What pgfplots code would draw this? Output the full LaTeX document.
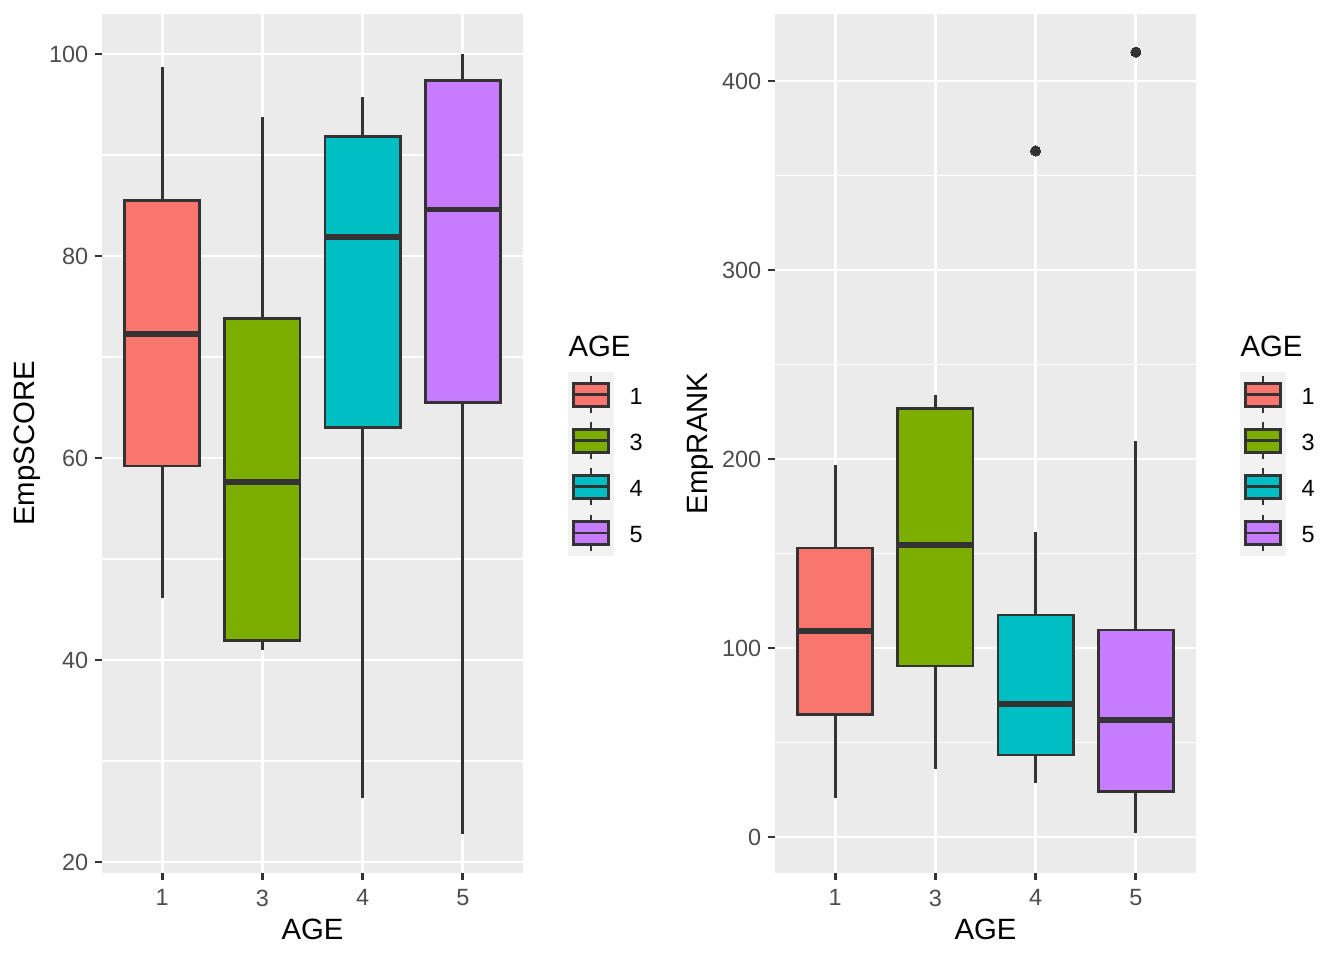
\documentclass[border=0pt]{standalone}
\usepackage{pgfplots}
\pgfplotsset{compat=1.18}
\usepgfplotslibrary{statistics}
\usepackage{fontspec}
\setmainfont{Liberation Sans}

\definecolor{panelbg}{HTML}{EBEBEB}
\definecolor{keybg}{HTML}{F2F2F2}
\definecolor{dark}{HTML}{333333}
\definecolor{ticktxt}{HTML}{4D4D4D}
\definecolor{age1}{HTML}{F8766D}
\definecolor{age3}{HTML}{7CAE00}
\definecolor{age4}{HTML}{00BFC4}
\definecolor{age5}{HTML}{C77CFF}

\pgfplotsset{
  gg/.style={
    scale only axis,
    width=157.875pt, height=322.125pt,
    anchor=south west,
    xmin=0.4, xmax=4.6,
    xtick={1,2,3,4}, xticklabels={1,3,4,5},
    axis background/.style={fill=panelbg},
    axis line style={draw=none},
    tick align=outside,
    major tick length=2.75pt,
    minor tick length=0pt,
    xtick pos=bottom, ytick pos=left,
    major tick style={draw=dark, line width=1.07pt},
    grid=both,
    major grid style={white, line width=1.07pt},
    minor grid style={white, line width=0.53pt},
    tick label style={font=\fontsize{8.8}{10}\selectfont, text=ticktxt, inner sep=0pt},
    xticklabel style={yshift=-3.3pt},
    yticklabel style={xshift=-2.2pt},
    /pgf/number format/assume math mode=true,
    xlabel=AGE,
    label style={font=\fontsize{11}{13}\selectfont, inner sep=0pt},
    xlabel style={at={(axis description cs:0.5,0)}, anchor=base, yshift=-24.75pt},
    ylabel style={at={(axis description cs:0,0.5)}, anchor=base, yshift=25.4pt},
    boxplot/draw direction=y,
    boxplot/box extend=0.75,
    boxplot/whisker extend=0,
    boxplot/every median/.style={line width=2.13pt},
    bx/.style={draw=dark, line width=1.07pt, fill=##1,
      mark=*, mark size=1.9pt, mark options={fill=dark, draw=dark, line width=0pt}},
  }
}

\newcommand{\ggkeys}{%
  \fill[keybg] (213pt,151.5pt) rectangle (230.28pt,220.62pt);
  \node[anchor=base west, inner sep=0pt, font=\fontsize{11}{13}\selectfont] at (213pt,226.5pt) {AGE};
  \foreach \c/\l [count=\i from 0] in {age1/1,age3/3,age4/4,age5/5}{
    \pgfmathsetmacro{\t}{220.62-17.28*\i}
    \draw[dark, line width=1.07pt] (221.64pt,\t pt-1.73pt) -- (221.64pt,\t pt-15.55pt);
    \filldraw[fill=\c, draw=dark, line width=1.07pt] (215.16pt,\t pt-4.32pt) rectangle (228.12pt,\t pt-12.96pt);
    \draw[dark, line width=1.07pt] (215.16pt,\t pt-8.64pt) -- (228.12pt,\t pt-8.64pt);
    \node[anchor=west, inner sep=0pt, font=\fontsize{8.8}{10}\selectfont] at (235.9pt,\t pt-9.3pt) {\l};
  }%
}

\begin{document}
\begin{tikzpicture}
\useasboundingbox (0,0) rectangle (504pt,360pt);

% left panel: EmpSCORE
\begin{axis}[gg, at={(38.25pt,32.625pt)},
  ymin=18.91, ymax=103.96,
  ytick={20,40,60,80,100}, minor ytick={30,50,70,90},
  ylabel=EmpSCORE]
  \addplot[bx=age1, mark=none, boxplot prepared={draw position=1,
    lower whisker=46.1, lower quartile=59.2, median=72.3,
    upper quartile=85.5, upper whisker=98.7}] coordinates {};
  \addplot[bx=age3, mark=none, boxplot prepared={draw position=2,
    lower whisker=41.0, lower quartile=41.9, median=57.6,
    upper quartile=73.8, upper whisker=93.8}] coordinates {};
  \addplot[bx=age4, mark=none, boxplot prepared={draw position=3,
    lower whisker=26.3, lower quartile=63.0, median=81.9,
    upper quartile=91.8, upper whisker=95.7}] coordinates {};
  \addplot[bx=age5, mark=none, boxplot prepared={draw position=4,
    lower whisker=22.8, lower quartile=65.5, median=84.6,
    upper quartile=97.4, upper whisker=100.0}] coordinates {};
\end{axis}

% right panel: EmpRANK
\begin{axis}[gg, at={(290.625pt,32.625pt)},
  ymin=-19.05, ymax=435.45,
  ytick={0,100,200,300,400}, minor ytick={50,150,250,350},
  ylabel=EmpRANK]
  \addplot[bx=age1, mark=none, boxplot prepared={draw position=1,
    lower whisker=20.6, lower quartile=64.6, median=109.0,
    upper quartile=152.9, upper whisker=196.8}] coordinates {};
  \addplot[bx=age3, mark=none, boxplot prepared={draw position=2,
    lower whisker=36.0, lower quartile=90.5, median=154.5,
    upper quartile=226.5, upper whisker=233.9}] coordinates {};
  \addplot[bx=age4, boxplot prepared={draw position=3,
    lower whisker=28.6, lower quartile=43.4, median=70.4,
    upper quartile=117.5, upper whisker=161.4}] table[row sep=\\, y index=0] {363.0\\};
  \addplot[bx=age5, boxplot prepared={draw position=4,
    lower whisker=2.1, lower quartile=24.3, median=61.9,
    upper quartile=109.5, upper whisker=209.5}] table[row sep=\\, y index=0] {415.3\\};
\end{axis}

\ggkeys
\begin{scope}[xshift=252pt]
\ggkeys
\end{scope}
\end{tikzpicture}
\end{document}
